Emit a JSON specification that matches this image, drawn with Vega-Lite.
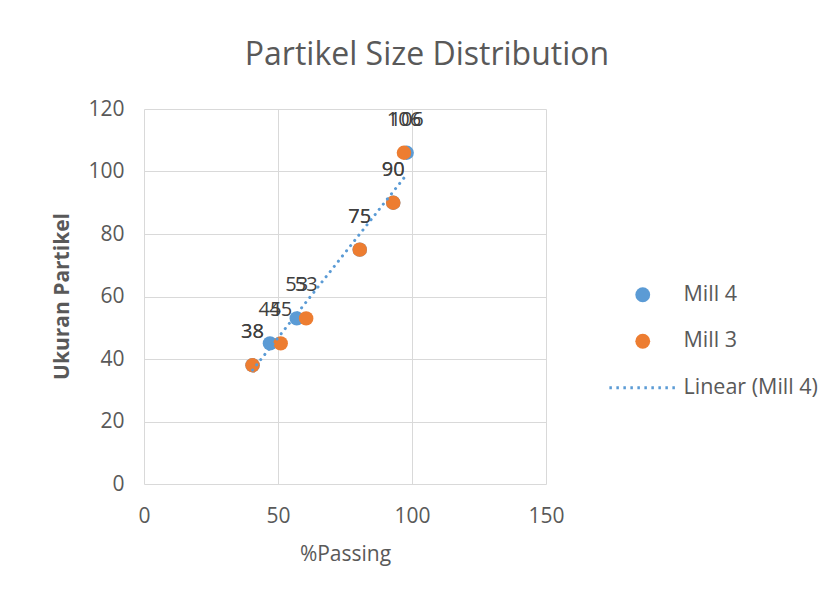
{
  "$schema": "https://vega.github.io/schema/vega-lite/v6.json",
  "width": 402,
  "height": 375,
  "autosize": "none",
  "padding": {"left": 144, "top": 109, "right": 288, "bottom": 115},
  "background": "white",
  "config": {
    "font": "Open Sans",
    "view": {"stroke": null},
    "axis": {
      "grid": true,
      "gridColor": "#d9d9d9",
      "gridWidth": 1,
      "domain": false,
      "ticks": false,
      "tickSize": 0,
      "labelFlush": false,
      "labelFontSize": 21,
      "labelColor": "#595959",
      "titleColor": "#595959",
      "titleFontSize": 21
    }
  },
  "title": {
    "text": "Partikel Size Distribution",
    "fontSize": 32,
    "fontWeight": "normal",
    "color": "#595959",
    "anchor": "middle",
    "dx": 82,
    "offset": 1,
    "baseline": "alphabetic"
  },
  "data": {
    "values": [
      {"series": "Mill 4", "x": 40.5, "y": 38},
      {"series": "Mill 4", "x": 47, "y": 45},
      {"series": "Mill 4", "x": 57, "y": 53},
      {"series": "Mill 4", "x": 80.5, "y": 75},
      {"series": "Mill 4", "x": 93, "y": 90},
      {"series": "Mill 4", "x": 98, "y": 106},
      {"series": "Mill 3", "x": 40.5, "y": 38},
      {"series": "Mill 3", "x": 51, "y": 45},
      {"series": "Mill 3", "x": 60.5, "y": 53},
      {"series": "Mill 3", "x": 80.5, "y": 75},
      {"series": "Mill 3", "x": 93, "y": 90},
      {"series": "Mill 3", "x": 97, "y": 106}
    ]
  },
  "encoding": {
    "x": {
      "field": "x",
      "type": "quantitative",
      "scale": {"domain": [0, 150], "nice": false},
      "axis": {
        "title": "%Passing",
        "values": [0, 50, 100, 150],
        "labelPadding": 21,
        "titleFontWeight": "normal",
        "titleBaseline": "middle",
        "titleY": 70
      }
    },
    "y": {
      "field": "y",
      "type": "quantitative",
      "scale": {"domain": [0, 120], "nice": false},
      "axis": {
        "title": "Ukuran Partikel",
        "values": [0, 20, 40, 60, 80, 100, 120],
        "labelPadding": 20,
        "titleFontSize": 21,
        "titleFontWeight": "bold",
        "titleBaseline": "middle",
        "titleX": -82,
        "titleY": 187
      }
    }
  },
  "layer": [
    {
      "mark": {"type": "point", "filled": true, "size": 210, "opacity": 1},
      "encoding": {
        "color": {
          "field": "series",
          "type": "nominal",
          "scale": {
            "domain": ["Mill 4", "Mill 3", "Linear (Mill 4)"],
            "range": ["#5B9BD5", "#ED7D31", "#5B9BD5"]
          },
          "legend": {
            "title": null,
            "orient": "none",
            "legendX": 488,
            "legendY": 175,
            "labelFontSize": 21.5,
            "labelColor": "#595959",
            "labelOffset": 30,
            "rowPadding": 23.5,
            "symbolSize": 220,
            "symbolType": {"expr": "datum.value === 'Linear (Mill 4)' ? 'M-4.5,0L4.5,0' : 'circle'"},
            "symbolStrokeColor": "#5B9BD5",
            "symbolStrokeWidth": {"expr": "datum.value === 'Linear (Mill 4)' ? 3 : 0"},
            "symbolDash": {"expr": "datum.value === 'Linear (Mill 4)' ? [2.5, 4.5] : [1, 0]"}
          }
        }
      }
    },
    {
      "mark": {"type": "text", "dy": -33, "fontSize": 20, "color": "#404040", "align": "center", "baseline": "middle"},
      "encoding": {"text": {"field": "y", "type": "quantitative"}}
    },
    {
      "transform": [
        {"filter": "datum.series === 'Mill 4'"},
        {"regression": "y", "on": "x"}
      ],
      "mark": {"type": "line", "strokeWidth": 3, "strokeDash": [0.1, 6.5], "strokeCap": "round"},
      "encoding": {
        "color": {"datum": "Linear (Mill 4)"}
      }
    }
  ]
}
